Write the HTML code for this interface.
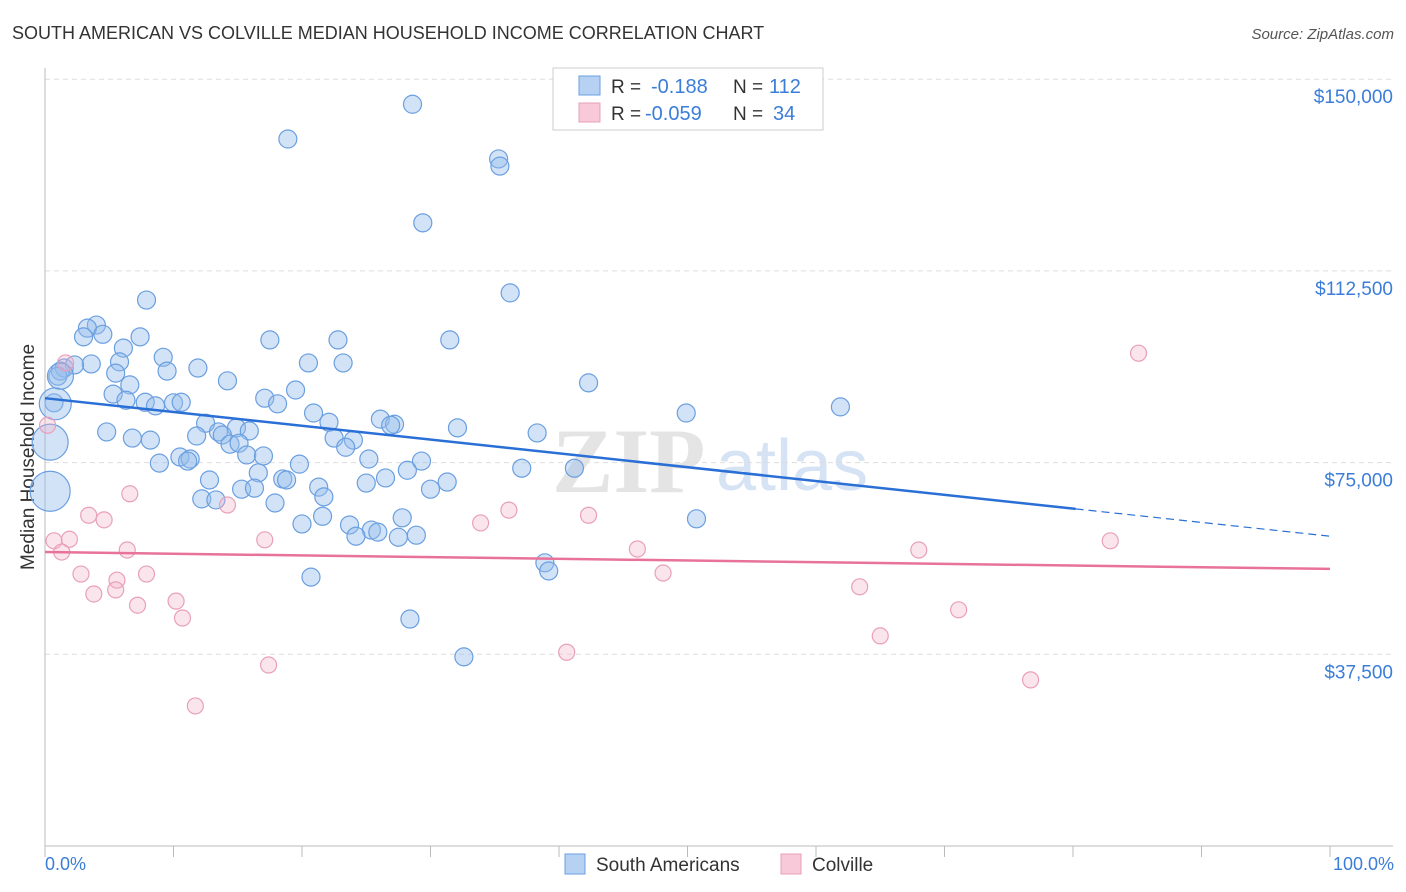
<!DOCTYPE html>
<html><head><meta charset="utf-8">
<style>
body{margin:0;background:#fff;font-family:"Liberation Sans",sans-serif;}
svg{display:block}
</style></head>
<body>
<svg id="chart" width="1406" height="892">
<text x="12" y="39" font-size="18" fill="#333">SOUTH AMERICAN VS COLVILLE MEDIAN HOUSEHOLD INCOME CORRELATION CHART</text>
<text x="1394" y="39" font-size="15" fill="#555" font-style="italic" text-anchor="end">Source: ZipAtlas.com</text>
<text x="0" y="0" transform="translate(34,457) rotate(-90)" font-size="19" fill="#333" text-anchor="middle">Median Household Income</text>
<g>
<text x="552" y="492" font-size="92" font-family="Liberation Serif,serif" fill="#e4e4e4" font-weight="bold">ZIP</text>
<text x="716" y="490" font-size="72" fill="#d5e3f4">atlas</text>
</g>
<g id="grid"></g>
<g id="axes"></g>
<g id="pts"></g>
<g id="trend"></g>
<g>
<rect x="553" y="68" width="270" height="62" fill="#fff" stroke="#ccc"/>
<rect x="579" y="76" width="21" height="19" fill="#b7d1f3" stroke="#6a9fe0"/>
<rect x="579" y="103" width="21" height="19" fill="#f8c9d8" stroke="#e8a0b8"/>
<text x="611" y="93" font-size="19" fill="#333">R = </text><text x="651" y="93" font-size="20" fill="#3b7dd8">-0.188</text>
<text x="733" y="93" font-size="19" fill="#333">N = </text><text x="769" y="93" font-size="20" fill="#3b7dd8">112</text>
<text x="611" y="120" font-size="19" fill="#333">R = </text><text x="645" y="120" font-size="20" fill="#3b7dd8">-0.059</text>
<text x="733" y="120" font-size="19" fill="#333">N = </text><text x="773" y="120" font-size="20" fill="#3b7dd8">34</text>
</g>
<g>
<rect x="565" y="854" width="20" height="20" fill="#b7d1f3" stroke="#6a9fe0"/>
<text x="596" y="871" font-size="19" fill="#333">South Americans</text>
<rect x="781" y="854" width="20" height="20" fill="#f8c9d8" stroke="#e8a0b8"/>
<text x="812" y="871" font-size="19" fill="#333">Colville</text>
</g>
<text x="45" y="870" font-size="18" fill="#3b7dd8">0.0%</text>
<text x="1394" y="870" font-size="18" fill="#3b7dd8" text-anchor="end">100.0%</text>
</svg>
<script>
const yTicks=[37500,75000,112500,150000];
const yTickLabels=["$37,500","$75,000","$112,500","$150,000"];
const blueX=[28.6,18.9,35.3,35.4,29.4,36.2,7.9,4.0,3.3,4.5,7.4,3.0,17.5,22.8,31.5,6.1,9.2,20.5,23.2,3.6,5.8,1.5,2.3,1.2,9.5,11.9,1.0,5.5,14.2,42.3,6.6,19.5,5.3,17.1,0.7,6.3,7.8,8.6,10.0,10.6,18.1,49.9,61.9,20.9,26.1,22.1,27.2,26.9,12.5,14.9,32.1,4.8,6.8,8.2,11.8,13.5,13.8,15.9,22.5,24.0,38.3,14.4,15.1,23.4,15.7,17.0,10.5,11.3,8.9,11.1,25.2,29.3,19.8,37.1,41.2,28.2,16.6,18.5,18.8,25.0,12.8,31.3,26.5,21.3,30.0,15.3,16.3,21.7,12.2,13.3,17.9,27.8,50.7,21.6,20.0,23.7,25.4,25.9,24.2,27.5,28.9,38.9,39.2,20.7,28.4,32.6,0.4,0.4,0.8,1.2];
const blueY=[145.1,138.3,134.4,133.0,121.9,108.2,106.8,101.9,101.3,100.1,99.6,99.6,99.0,99.0,99.0,97.4,95.6,94.5,94.5,94.3,94.7,93.5,94.1,92.9,92.9,93.5,91.9,92.5,91.0,90.6,90.2,89.2,88.4,87.6,86.7,87.2,86.8,86.1,86.7,86.8,86.5,84.7,85.9,84.7,83.5,82.9,82.5,82.3,82.7,81.8,81.8,81.0,79.8,79.4,80.2,81.0,80.4,81.2,79.8,79.4,80.8,78.6,78.8,78.0,76.5,76.3,76.1,75.7,74.9,75.3,75.7,75.3,74.7,73.9,73.9,73.5,73.0,71.8,71.6,71.0,71.6,71.2,72.0,70.2,69.8,69.8,70.0,68.3,67.9,67.7,67.1,64.2,64.0,64.5,63.0,62.8,61.8,61.4,60.6,60.4,60.8,55.4,53.8,52.6,44.4,37.0,69.4,79.0,86.5,91.9];
const blueR=[9,9,9,9,9,9,9,9,9,9,9,9,9,9,9,9,9,9,9,9,9,9,9,9,9,9,9,9,9,9,9,9,9,9,9,9,9,9,9,9,9,9,9,9,9,9,9,9,9,9,9,9,9,9,9,9,9,9,9,9,9,9,9,9,9,9,9,9,9,9,9,9,9,9,9,9,9,9,9,9,9,9,9,9,9,9,9,9,9,9,9,9,9,9,9,9,9,9,9,9,9,9,9,9,9,9,20,18,16,13];
const pinkX=[85.1,0.2,6.6,14.2,3.4,4.6,36.1,42.3,33.9,0.7,1.9,1.3,6.4,17.1,46.1,68.0,82.9,2.8,7.9,5.6,48.1,3.8,5.5,7.2,10.2,10.7,63.4,71.1,65.0,40.6,17.4,76.7,11.7,1.6];
const pinkY=[96.4,82.3,68.9,66.7,64.7,63.8,65.7,64.7,63.2,59.7,60.0,57.5,57.9,59.9,58.1,57.9,59.7,53.2,53.2,52.0,53.4,49.3,50.1,47.1,47.9,44.6,50.7,46.2,41.1,37.9,35.4,32.5,27.4,94.5];
const blueTrend=[87.6,60.6];
const blueSolidEnd=80.2;
const pinkTrend=[57.5,54.2];

const NS="http://www.w3.org/2000/svg";
const X0=45,X1=1330,Y0=846,PXK=191.7/37.5;
const sx=v=>X0+(X1-X0)*v/100;
const sy=v=>Y0-v*PXK;
function mk(tag,attrs,parent){const e=document.createElementNS(NS,tag);for(const k in attrs)e.setAttribute(k,attrs[k]);document.getElementById(parent).appendChild(e);return e;}

yTicks.forEach((t,i)=>{
  const y=sy(t/1000);
  const l=mk('line',{x1:X0,x2:1393,y1:y,y2:y,stroke:'#ddd','stroke-dasharray':'5,4'},'grid');
  
  
  const tx=mk('text',{x:1393,y:y+24,'font-size':19,fill:'#3b7dd8','text-anchor':'end'},'grid');
  tx.textContent=yTickLabels[i];
  
  
});
const ax=mk('line',{x1:X0,x2:X0,y1:68,y2:Y0,stroke:'#bbb'},'axes');


const bx=mk('line',{x1:X0,x2:1393,y1:Y0,y2:Y0,stroke:'#bbb'},'axes');


for(let i=0;i<=10;i++){
  const x=sx(i*10);
  const t=mk('line',{x1:x,x2:x,y1:Y0,y2:Y0+11,stroke:'#bbb'},'axes');
  
  
}
blueX.forEach((v,i)=>{
  const c=mk('circle',{cx:sx(v),cy:sy(blueY[i]),r:blueR[i],fill:'rgba(150,188,236,0.42)',stroke:'#6a9fe0','stroke-width':1.2},'pts');
  
  
});
pinkX.forEach((v,i)=>{
  const c=mk('circle',{cx:sx(v),cy:sy(pinkY[i]),r:8,fill:'rgba(244,180,202,0.35)',stroke:'#e8a0b8','stroke-width':1.2},'pts');
  
  
});
const by=p=>blueTrend[0]+(blueTrend[1]-blueTrend[0])*p/100;
const b1=mk('line',{x1:sx(0),y1:sy(by(0)),x2:sx(blueSolidEnd),y2:sy(by(blueSolidEnd)),stroke:'#2a6fd6','stroke-width':2.5},'trend');


const b2=mk('line',{x1:sx(blueSolidEnd),y1:sy(by(blueSolidEnd)),x2:sx(100),y2:sy(by(100)),stroke:'#2a6fd6','stroke-width':1.2,'stroke-dasharray':'8,5'},'trend');


const p1=mk('line',{x1:sx(0),y1:sy(pinkTrend[0]),x2:sx(100),y2:sy(pinkTrend[1]),stroke:'#e8729a','stroke-width':2.5},'trend');


</script>
</body></html>
